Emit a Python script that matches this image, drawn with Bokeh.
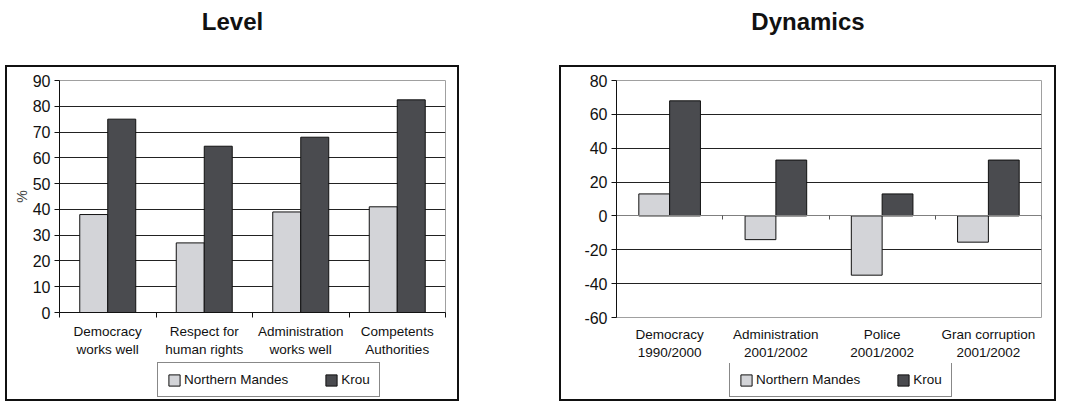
from bokeh.plotting import figure
from bokeh.models import ColumnDataSource, FixedTicker, LinearAxis, Legend, LegendItem, Range1d
from bokeh.layouts import row, column
from bokeh.transform import dodge
from bokeh.embed import file_html
from bokeh.resources import INLINE

# ---------------- data ----------------
series_names = ["Northern Mandes", "Krou"]

level_categories = ["Democracy\nworks well", "Respect for\nhuman rights",
                    "Administration\nworks well", "Competents\nAuthorities"]
level_northern_mandes = [38, 27, 39, 41]
level_krou = [75, 64.5, 68, 82.5]
level_y_ticks = [0, 10, 20, 30, 40, 50, 60, 70, 80, 90]
level_grid_ticks = [10, 20, 30, 40, 50, 60, 70, 80]

dyn_categories = ["Democracy\n1990/2000", "Administration\n2001/2002",
                  "Police\n2001/2002", "Gran corruption\n2001/2002"]
dyn_northern_mandes = [13, -14, -35, -15.5]
dyn_krou = [68, 33, 13, 33]
dyn_y_ticks = [-60, -40, -20, 0, 20, 40, 60, 80]
dyn_grid_ticks = [-60, -40, -20, 20, 40, 60]

# ---------------- style ----------------
FONT = "Liberation Sans"
NM_COLOR = "#d3d4d8"
KROU_COLOR = "#4a4b4f"
BAR_WIDTH = 0.29
TITLE_H = 65
BOX_H = 336
BORDER = 2


def build_panel(title_text, categories, nm_vals, krou_vals, y_ticks, grid_ticks,
                box_w, mb_left, mb_right, mb_top, mb_bottom, legend_h, legend_loc,
                zero_axis, ylabel, label_standoff, margin):
    n = len(categories)
    centers = [i + 0.5 for i in range(n)]
    bounds = list(range(n + 1))
    src = ColumnDataSource(dict(center=centers, nm=nm_vals, krou=krou_vals))
    inner_w = box_w - 2 * BORDER
    inner_h = BOX_H - 2 * BORDER

    p = figure(width=inner_w, height=inner_h - legend_h,
               x_range=Range1d(0, n), y_range=Range1d(y_ticks[0], y_ticks[-1]),
               toolbar_location=None, output_backend="svg",
               min_border_left=mb_left, min_border_right=mb_right,
               min_border_top=mb_top, min_border_bottom=mb_bottom)
    p.outline_line_color = "#a0a0a0"
    p.outline_line_width = 1

    bar_kw = [dict(x=dodge("center", -BAR_WIDTH / 2), top="nm", fill_color=NM_COLOR),
              dict(x=dodge("center", BAR_WIDTH / 2), top="krou", fill_color=KROU_COLOR)]
    for kw in bar_kw:
        p.vbar(bottom=0, width=BAR_WIDTH, source=src, line_color="#111111",
               line_width=1, **kw)

    # grid
    p.xgrid.visible = False
    p.ygrid.ticker = FixedTicker(ticks=grid_ticks)
    p.ygrid.grid_line_color = "#222222"
    p.ygrid.grid_line_width = 1

    # y axis
    ya = p.yaxis[0]
    ya.ticker = FixedTicker(ticks=y_ticks)
    ya.major_label_overrides = {v: str(v) for v in y_ticks}
    ya.axis_line_color = "#111111"
    ya.major_tick_line_color = "#111111"
    ya.major_tick_out = 5
    ya.major_tick_in = 0
    ya.minor_tick_line_color = None
    ya.major_label_standoff = 4
    ya.major_label_text_font = FONT
    ya.major_label_text_font_size = "16px"
    ya.major_label_text_color = "#111111"
    if ylabel:
        ya.axis_label = ylabel
        ya.axis_label_text_font = FONT
        ya.axis_label_text_font_size = "14px"
        ya.axis_label_text_font_style = "normal"
        ya.axis_label_standoff = 0

    # x axis with category labels
    xa = p.xaxis[0]
    xa.ticker = FixedTicker(ticks=centers, minor_ticks=[] if zero_axis else bounds)
    xa.major_label_overrides = {c: lab for c, lab in zip(centers, categories)}
    xa.major_tick_out = 0
    xa.major_tick_in = 0
    xa.minor_tick_out = 5
    xa.minor_tick_in = 0
    xa.minor_tick_line_color = "#111111"
    xa.major_label_standoff = label_standoff
    xa.major_label_text_font = FONT
    xa.major_label_text_font_size = "13.5px"
    xa.major_label_text_line_height = 1.25
    xa.major_label_text_color = "#111111"
    xa.axis_line_color = None if zero_axis else "#111111"

    if zero_axis:
        za = LinearAxis(fixed_location=0,
                        ticker=FixedTicker(ticks=[], minor_ticks=bounds),
                        axis_line_color="#808080", axis_line_width=1,
                        major_tick_out=0, major_tick_in=0,
                        minor_tick_out=4, minor_tick_in=0,
                        minor_tick_line_color="#555555",
                        major_label_text_font_size="0px")
        p.add_layout(za, "below")

    # legend strip (separate figure inside the same bordered box)
    lf = figure(width=inner_w, height=legend_h, toolbar_location=None,
                output_backend="svg", x_axis_type=None, y_axis_type=None,
                min_border=0, outline_line_color=None)
    lf.grid.visible = False
    leg_r = [lf.vbar(bottom=0, width=BAR_WIDTH, source=src, line_color="#111111",
                     line_width=1, visible=False, **kw) for kw in bar_kw]
    legend = Legend(items=[LegendItem(label=series_names[0], renderers=[leg_r[0]]),
                           LegendItem(label=series_names[1], renderers=[leg_r[1]])],
                    orientation="horizontal", location=legend_loc,
                    border_line_color="#111111", border_line_width=1,
                    background_fill_color="white", background_fill_alpha=1,
                    padding=9, spacing=36, margin=0,
                    glyph_width=14, glyph_height=14, label_height=14,
                    label_standoff=3, label_text_font=FONT,
                    label_text_font_size="13.5px", label_text_color="#111111")
    lf.add_layout(legend)

    box = column(p, lf, spacing=0,
                 styles={"border": f"{BORDER}px solid #111111"})

    t = figure(width=box_w, height=TITLE_H, toolbar_location=None,
               output_backend="svg", x_axis_type=None, y_axis_type=None,
               min_border=0, outline_line_color=None, title=title_text)
    t.title.align = "center"
    t.title.text_font = FONT
    t.title.text_font_size = "24px"
    t.title.text_font_style = "bold"
    t.title.text_color = "#111111"
    return column(t, box, spacing=0, margin=margin)


left = build_panel("Level", level_categories, level_northern_mandes, level_krou,
                   level_y_ticks, level_grid_ticks, box_w=454,
                   mb_left=52, mb_right=12, mb_top=13, mb_bottom=47,
                   legend_h=39, legend_loc=(98, 2),
                   zero_axis=False, ylabel="%",
                   label_standoff=6, margin=(0, 0, 0, 5))
right = build_panel("Dynamics", dyn_categories, dyn_northern_mandes, dyn_krou,
                    dyn_y_ticks, dyn_grid_ticks, box_w=497,
                    mb_left=55, mb_right=13, mb_top=13, mb_bottom=46,
                    legend_h=36, legend_loc=(113, 2),
                    zero_axis=True, ylabel=None,
                    label_standoff=9, margin=(0, 0, 0, 0))

layout = row(left, right, spacing=100)
open("out.html", "w").write(file_html(layout, INLINE))
